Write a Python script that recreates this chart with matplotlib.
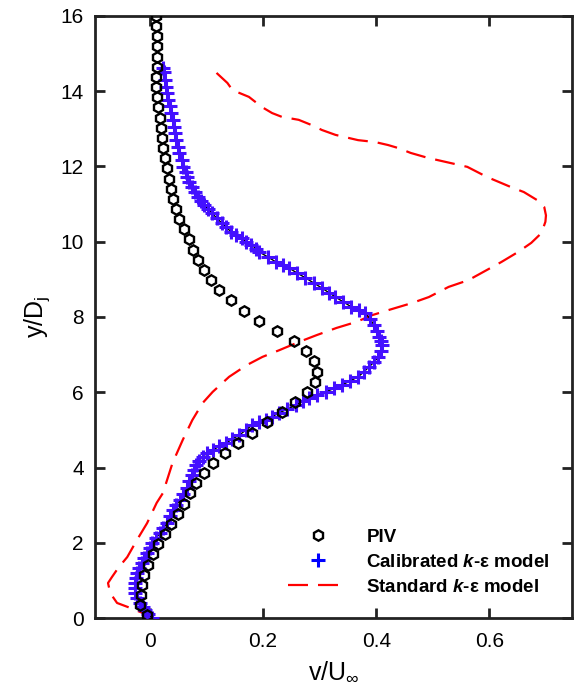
import matplotlib
matplotlib.use('Agg')
import matplotlib.pyplot as plt

plt.rcParams['font.family'] = ['Liberation Sans', 'DejaVu Sans']
plt.rcParams['mathtext.fontset'] = 'custom'
plt.rcParams['mathtext.rm'] = 'Liberation Sans'
plt.rcParams['mathtext.it'] = 'Liberation Sans:italic'
plt.rcParams['mathtext.bf'] = 'Liberation Sans:bold'
plt.rcParams['mathtext.bfit'] = 'Liberation Sans:italic:bold'

# PIV measurements
piv_v = [0.010, 0.011, 0.012, 0.013, 0.013, 0.012, 0.011, 0.011, 0.012, 0.014,
         0.017, 0.019, 0.021, 0.023, 0.027, 0.030, 0.033, 0.037, 0.041, 0.046,
         0.052, 0.060, 0.069, 0.076, 0.085, 0.096, 0.108, 0.123, 0.143, 0.166,
         0.192, 0.224, 0.254, 0.276, 0.290, 0.296, 0.292, 0.278, 0.257, 0.233,
         0.207, 0.181, 0.156, 0.133, 0.111, 0.095, 0.081, 0.071, 0.061, 0.049,
         0.037, 0.026, 0.015, 0.006, -0.004, -0.010, -0.014, -0.016, -0.017, -0.005]
piv_y = [16.00, 15.73, 15.46, 15.19, 14.92, 14.65, 14.38, 14.11, 13.84, 13.57,
         13.30, 13.03, 12.76, 12.49, 12.22, 11.95, 11.68, 11.41, 11.14, 10.87,
         10.60, 10.33, 10.06, 9.79, 9.52, 9.25, 8.98, 8.71, 8.44, 8.17,
         7.90, 7.63, 7.36, 7.09, 6.82, 6.55, 6.28, 6.01, 5.74, 5.47,
         5.20, 4.93, 4.66, 4.39, 4.12, 3.85, 3.58, 3.31, 3.04, 2.77,
         2.50, 2.23, 1.96, 1.69, 1.42, 1.15, 0.88, 0.61, 0.34, 0.07]

# calibrated k-epsilon model
cal_v = [0.023, 0.025, 0.026, 0.028, 0.030, 0.032, 0.035, 0.037, 0.040, 0.042,
         0.044, 0.047, 0.049, 0.052, 0.056, 0.059, 0.063, 0.066, 0.070, 0.074,
         0.079, 0.085, 0.091, 0.096, 0.102, 0.110, 0.118, 0.127, 0.135, 0.144,
         0.153, 0.162, 0.170, 0.179, 0.188, 0.193, 0.208, 0.223, 0.235, 0.246,
         0.260, 0.275, 0.290, 0.304, 0.316, 0.328, 0.342, 0.356, 0.369, 0.381,
         0.389, 0.396, 0.401, 0.405, 0.409, 0.411, 0.409, 0.404, 0.396, 0.387,
         0.378, 0.368, 0.354, 0.339, 0.325, 0.311, 0.296, 0.281, 0.270, 0.258,
         0.243, 0.228, 0.216, 0.205, 0.193, 0.181, 0.170, 0.158, 0.146, 0.135,
         0.123, 0.111, 0.101, 0.093, 0.087, 0.082, 0.078, 0.074, 0.070, 0.065,
         0.059, 0.053, 0.047, 0.040, 0.035, 0.030, 0.024, 0.018, 0.011, 0.004,
         0.000, -0.005, -0.010, -0.014, -0.019, -0.023, -0.025, -0.026, -0.026, -0.026,
         -0.022, -0.018, -0.013, -0.009, -0.003, 0.004]
cal_y = [14.62, 14.51, 14.31, 14.11, 13.94, 13.77, 13.60, 13.42, 13.24, 13.05,
         12.88, 12.70, 12.53, 12.36, 12.17, 11.99, 11.85, 11.72, 11.59, 11.46,
         11.32, 11.19, 11.08, 10.98, 10.87, 10.76, 10.63, 10.50, 10.38, 10.26,
         10.18, 10.10, 10.00, 9.91, 9.82, 9.73, 9.60, 9.46, 9.38, 9.30,
         9.17, 9.04, 8.90, 8.77, 8.65, 8.53, 8.40, 8.27, 8.19, 8.11,
         7.95, 7.79, 7.63, 7.47, 7.37, 7.26, 7.10, 6.94, 6.80, 6.67,
         6.54, 6.41, 6.30, 6.19, 6.10, 6.01, 5.93, 5.85, 5.76, 5.66,
         5.55, 5.45, 5.35, 5.26, 5.20, 5.13, 5.00, 4.86, 4.76, 4.65,
         4.56, 4.47, 4.38, 4.28, 4.17, 4.07, 3.94, 3.80, 3.63, 3.46,
         3.30, 3.14, 3.00, 2.87, 2.70, 2.52, 2.39, 2.26, 2.12, 1.99,
         1.86, 1.73, 1.60, 1.46, 1.33, 1.20, 1.06, 0.93, 0.80, 0.66,
         0.53, 0.40, 0.30, 0.21, 0.10, 0.00]

# standard k-epsilon model
std_v = [0.118, 0.119, 0.137, 0.146, 0.175, 0.198, 0.216, 0.233, 0.263, 0.286,
         0.304, 0.328, 0.368, 0.398, 0.421, 0.439, 0.461, 0.491, 0.532, 0.561,
         0.596, 0.637, 0.661, 0.684, 0.697, 0.700, 0.699, 0.692, 0.674, 0.651,
         0.621, 0.586, 0.563, 0.528, 0.493, 0.463, 0.423, 0.393, 0.365, 0.330,
         0.295, 0.264, 0.229, 0.199, 0.171, 0.140, 0.111, 0.093, 0.075, 0.058,
         0.040, 0.023, 0.012, -0.005, -0.023, -0.040, -0.056, -0.067, -0.074, -0.070,
         -0.058, -0.035, -0.012, 0.000]
std_y = [14.49, 14.47, 14.22, 14.03, 13.85, 13.58, 13.42, 13.32, 13.24, 13.10,
         12.97, 12.84, 12.70, 12.65, 12.57, 12.49, 12.36, 12.23, 12.09, 11.99,
         11.72, 11.46, 11.32, 11.11, 10.92, 10.70, 10.53, 10.23, 9.97, 9.73,
         9.46, 9.17, 8.98, 8.80, 8.53, 8.37, 8.19, 8.05, 7.87, 7.71,
         7.52, 7.34, 7.12, 6.94, 6.72, 6.41, 6.01, 5.71, 5.26, 4.73,
         4.12, 3.32, 3.06, 2.52, 2.07, 1.62, 1.33, 1.09, 0.93, 0.66,
         0.40, 0.27, 0.13, 0.03]

x_ticks = [0, 0.2, 0.4, 0.6]
x_tick_labels = ['0', '0.2', '0.4', '0.6']
y_ticks = [0, 2, 4, 6, 8, 10, 12, 14, 16]

fig = plt.figure(figsize=(5.74, 6.98), dpi=100)
ax = fig.add_axes([0.1655, 0.1146, 0.831, 0.8625])

ax.plot(std_v, std_y, color='#ff0000', lw=1.6, dashes=(9, 4.5),
        label=r'Standard $\mathbfit{k}$-ε model', zorder=2)
ax.plot(cal_v, cal_y, color='black', lw=1.0, zorder=3)
ax.plot(cal_v, cal_y, ls='none', marker='+', ms=10, mew=2.2, color='#4410ff',
        label=r'Calibrated $\mathbfit{k}$-ε model', zorder=4)
ax.plot(piv_v, piv_y, ls='none', marker='h', ms=7.5, mew=1.7, mfc='none', mec='black',
        label='PIV', zorder=5)

ax.set_xlim(-0.097, 0.746)
ax.set_ylim(0, 16)
ax.set_xticks(x_ticks)
ax.set_xticklabels(x_tick_labels)
ax.set_yticks(y_ticks)
ax.tick_params(direction='in', length=7, width=2, top=True, right=True,
               labelsize=15, color='#222222')
ax.tick_params(axis='x', pad=10)
ax.tick_params(axis='y', pad=8)
for s in ax.spines.values():
    s.set_linewidth(2)
    s.set_color('#222222')

ax.set_xlabel(r'v/U$_\infty$', fontsize=18, labelpad=6)
ax.set_ylabel(r'y/D$_\mathregular{j}$', fontsize=18, labelpad=6)

h, l = ax.get_legend_handles_labels()
order = [2, 1, 0]
leg = ax.legend([h[i] for i in order], [l[i] for i in order], loc='upper left',
                bbox_to_anchor=(0.404, 0.148), frameon=False, borderpad=0,
                borderaxespad=0, handlelength=3.2, handletextpad=1.0,
                labelspacing=0.42, prop={'weight': 'bold', 'size': 13.5})
leg.legend_handles[1].set_color('#0000ff')

fig.savefig('out.png', dpi=100)
